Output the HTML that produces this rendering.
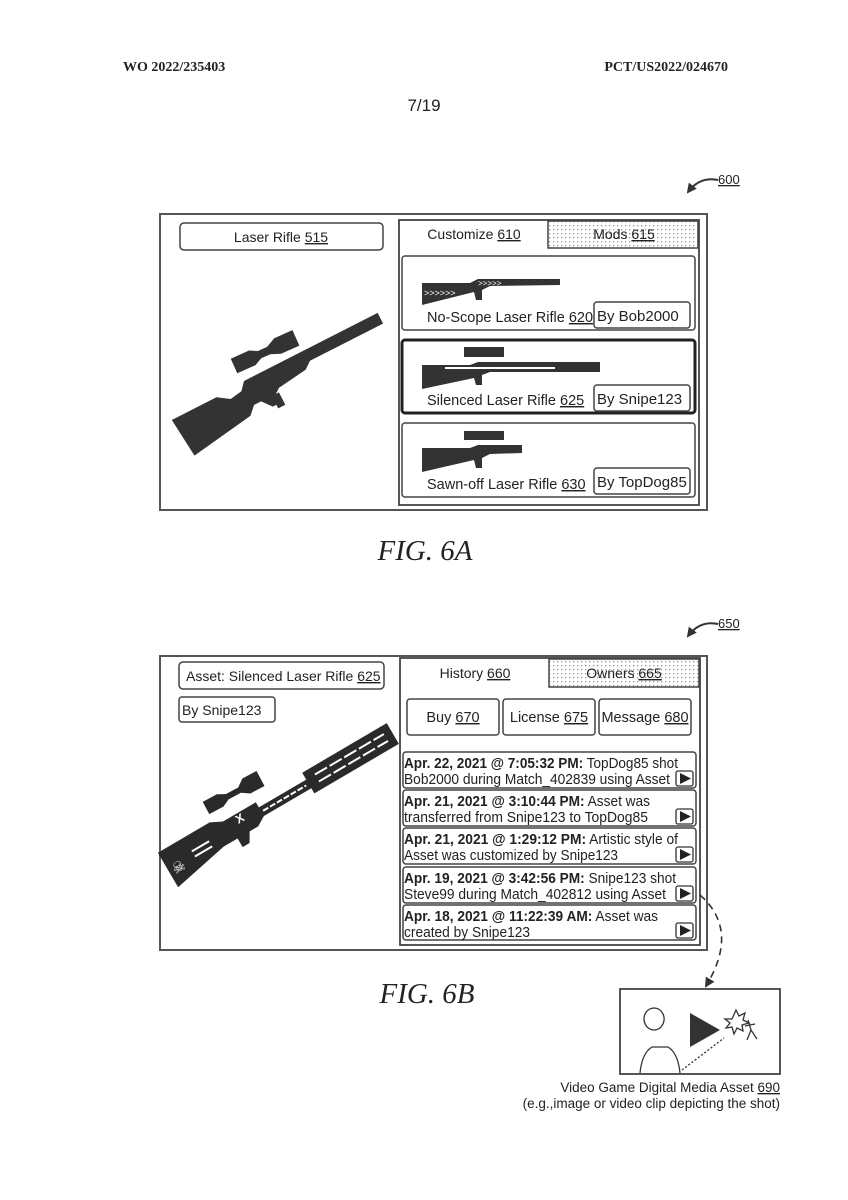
<!DOCTYPE html>
<html><head><meta charset="utf-8"><style>
html,body{margin:0;padding:0;background:#fff;}
svg{display:block;}
text{font-family:"Liberation Sans",Arial,sans-serif;fill:#222;}
</style></head><body>
<svg width="848" height="1200" viewBox="0 0 848 1200" xmlns="http://www.w3.org/2000/svg">
<defs>
<pattern id="dots" width="4" height="4" patternUnits="userSpaceOnUse"><rect width="4" height="4" fill="#fff"/><rect x="1" y="1" width="1.3" height="1.3" fill="#999"/></pattern>
<marker id="ah" markerWidth="10" markerHeight="10" refX="8" refY="5" orient="auto" markerUnits="userSpaceOnUse"><path d="M0,0 L10,5 L0,10 z" fill="#333"/></marker>
</defs>
<!-- header -->
<text x="123" y="71" font-weight="bold" font-size="14" style="font-family:'Liberation Serif',serif">WO 2022/235403</text>
<text x="728" y="71" text-anchor="end" font-weight="bold" font-size="14" style="font-family:'Liberation Serif',serif">PCT/US2022/024670</text>
<text x="424" y="111" text-anchor="middle" font-size="17">7/19</text>

<!-- 600 ref -->
<text x="718" y="184" font-size="13" text-decoration="underline">600</text>
<path d="M718,180 Q700,176 688,192" stroke="#333" stroke-width="2" fill="none" marker-end="url(#ah)"/>

<!-- FIG 6A -->
<rect x="160" y="214" width="547" height="296" fill="none" stroke="#555" stroke-width="2"/>
<rect x="180" y="223" width="203" height="27" rx="4" fill="#fff" stroke="#444" stroke-width="1.5"/>
<text x="281" y="242" text-anchor="middle" font-size="14">Laser Rifle <tspan text-decoration="underline">515</tspan></text>
<rect x="399" y="220" width="300" height="285" fill="#fff" stroke="#444" stroke-width="1.8"/>
<rect x="548" y="221" width="150" height="27" fill="url(#dots)" stroke="#444" stroke-width="1.5"/>
<text x="474" y="239" text-anchor="middle" font-size="14">Customize <tspan text-decoration="underline">610</tspan></text>
<text x="624" y="239" text-anchor="middle" font-size="14">Mods <tspan text-decoration="underline">615</tspan></text>
<rect x="402" y="256" width="293" height="74" rx="3" fill="#fff" stroke="#444" stroke-width="1.5"/>
<rect x="402" y="340" width="293" height="73" rx="3" fill="#fff" stroke="#222" stroke-width="3"/>
<rect x="402" y="423" width="293" height="74" rx="3" fill="#fff" stroke="#444" stroke-width="1.5"/>
<rect x="594" y="302" width="96" height="26" rx="3" fill="#fff" stroke="#444" stroke-width="1.5"/>
<rect x="594" y="385" width="96" height="26" rx="3" fill="#fff" stroke="#444" stroke-width="1.5"/>
<rect x="594" y="468" width="96" height="26" rx="3" fill="#fff" stroke="#444" stroke-width="1.5"/>
<text x="597" y="321" font-size="15">By Bob2000</text>
<text x="597" y="404" font-size="15">By Snipe123</text>
<text x="597" y="487" font-size="15">By TopDog85</text>
<text x="427" y="322" font-size="14.5">No-Scope Laser Rifle <tspan text-decoration="underline">620</tspan></text>
<text x="427" y="405" font-size="14.5">Silenced Laser Rifle <tspan text-decoration="underline">625</tspan></text>
<text x="427" y="489" font-size="14.5">Sawn-off Laser Rifle <tspan text-decoration="underline">630</tspan></text>

<!-- big rifle 6A -->
<g fill="#333" transform="translate(180,436) rotate(-27)">
<polygon points="0,-18 50,-18 62,-10 75,-12 82,-20 232,-20 232,-8 150,-8 142,-2 110,2 102,8 102,16 96,16 88,6 80,6 72,14 4,24"/>
<polygon points="100,6 108,6 108,20 100,20"/>
</g>
<g fill="#333" transform="translate(234,366) rotate(-24)">
<polygon points="0,-8 20,-8 28,-4 38,-4 48,-9 68,-9 68,8 48,8 38,4 28,4 20,8 0,8"/>
</g>
<!-- card rifles -->
<g fill="#333">
<polygon points="422,283 470,283 478,279 560,279 560,285 490,286 482,290 482,300 476,300 474,292 422,305"/>
<text x="424" y="296" font-size="9" style="fill:#fff">&gt;&gt;&gt;&gt;&gt;&gt;</text>
<text x="478" y="286" font-size="8" style="fill:#fff">&gt;&gt;&gt;&gt;&gt;</text>
<rect x="464" y="347" width="40" height="10"/>
<polygon points="422,365 470,365 478,362 600,362 600,372 490,372 482,375 482,385 476,385 474,378 422,389"/>
<rect x="445" y="367" width="110" height="2" fill="#fff"/>
<rect x="464" y="431" width="40" height="9"/>
<polygon points="422,448 470,448 478,445 522,445 522,453 490,454 482,458 482,468 476,468 474,460 422,472"/>
</g>

<text x="425" y="560" text-anchor="middle" font-size="29" font-style="italic" style="font-family:'Liberation Serif',serif">FIG. 6A</text>

<!-- 650 ref -->
<text x="718" y="628" font-size="13" text-decoration="underline">650</text>
<path d="M718,624 Q700,620 688,636" stroke="#333" stroke-width="2" fill="none" marker-end="url(#ah)"/>

<!-- FIG 6B -->
<rect x="160" y="656" width="547" height="294" fill="none" stroke="#555" stroke-width="2"/>
<rect x="179" y="662" width="205" height="27" rx="4" fill="#fff" stroke="#444" stroke-width="1.5"/>
<text x="186" y="681" font-size="14">Asset: Silenced Laser Rifle <tspan text-decoration="underline">625</tspan></text>
<rect x="179" y="697" width="96" height="25" rx="3" fill="#fff" stroke="#444" stroke-width="1.5"/>
<text x="182" y="715" font-size="14">By Snipe123</text>
<rect x="400" y="658" width="300" height="287" fill="#fff" stroke="#444" stroke-width="1.8"/>
<rect x="549" y="659" width="150" height="28" fill="url(#dots)" stroke="#444" stroke-width="1.5"/>
<text x="475" y="678" text-anchor="middle" font-size="14">History <tspan text-decoration="underline">660</tspan></text>
<text x="624" y="678" text-anchor="middle" font-size="14">Owners <tspan text-decoration="underline">665</tspan></text>
<rect x="407" y="699" width="92" height="36" rx="3" fill="#fff" stroke="#444" stroke-width="1.5"/>
<rect x="503" y="699" width="92" height="36" rx="3" fill="#fff" stroke="#444" stroke-width="1.5"/>
<rect x="599" y="699" width="92" height="36" rx="3" fill="#fff" stroke="#444" stroke-width="1.5"/>
<text x="453" y="722" text-anchor="middle" font-size="14.5">Buy <tspan text-decoration="underline">670</tspan></text>
<text x="549" y="722" text-anchor="middle" font-size="14.5">License <tspan text-decoration="underline">675</tspan></text>
<text x="645" y="722" text-anchor="middle" font-size="14.5">Message <tspan text-decoration="underline">680</tspan></text>

<g font-size="14.5">
<rect x="403" y="752" width="293" height="36" rx="3" fill="#fff" stroke="#444" stroke-width="1.5"/>
<text x="404" y="768" textLength="274" lengthAdjust="spacingAndGlyphs"><tspan font-weight="bold">Apr. 22, 2021 @ 7:05:32 PM:</tspan> TopDog85 shot</text>
<text x="404" y="784" textLength="266" lengthAdjust="spacingAndGlyphs">Bob2000 during Match_402839 using Asset</text>
<rect x="403" y="790" width="293" height="36" rx="3" fill="#fff" stroke="#444" stroke-width="1.5"/>
<text x="404" y="806" textLength="246" lengthAdjust="spacingAndGlyphs"><tspan font-weight="bold">Apr. 21, 2021 @ 3:10:44 PM:</tspan> Asset was</text>
<text x="404" y="822" textLength="244" lengthAdjust="spacingAndGlyphs">transferred from Snipe123 to TopDog85</text>
<rect x="403" y="828" width="293" height="36" rx="3" fill="#fff" stroke="#444" stroke-width="1.5"/>
<text x="404" y="844" textLength="274" lengthAdjust="spacingAndGlyphs"><tspan font-weight="bold">Apr. 21, 2021 @ 1:29:12 PM:</tspan> Artistic style of</text>
<text x="404" y="860" textLength="214" lengthAdjust="spacingAndGlyphs">Asset was customized by Snipe123</text>
<rect x="403" y="867" width="293" height="36" rx="3" fill="#fff" stroke="#444" stroke-width="1.5"/>
<text x="404" y="883" textLength="272" lengthAdjust="spacingAndGlyphs"><tspan font-weight="bold">Apr. 19, 2021 @ 3:42:56 PM:</tspan> Snipe123 shot</text>
<text x="404" y="899" textLength="262" lengthAdjust="spacingAndGlyphs">Steve99 during Match_402812 using Asset</text>
<rect x="403" y="905" width="293" height="35" rx="3" fill="#fff" stroke="#444" stroke-width="1.5"/>
<text x="404" y="921" textLength="254" lengthAdjust="spacingAndGlyphs"><tspan font-weight="bold">Apr. 18, 2021 @ 11:22:39 AM:</tspan> Asset was</text>
<text x="404" y="937" textLength="126" lengthAdjust="spacingAndGlyphs">created by Snipe123</text>
</g>
<g stroke="#333" stroke-width="1.3" fill="#fff">
<rect x="676" y="771" width="17" height="15" rx="2"/>
<rect x="676" y="809" width="17" height="15" rx="2"/>
<rect x="676" y="847" width="17" height="15" rx="2"/>
<rect x="676" y="886" width="17" height="15" rx="2"/>
<rect x="676" y="923" width="17" height="15" rx="2"/>
</g>
<g fill="#222">
<polygon points="680,773 691,778.5 680,784"/>
<polygon points="680,811 691,816.5 680,822"/>
<polygon points="680,849 691,854.5 680,860"/>
<polygon points="680,888 691,893.5 680,899"/>
<polygon points="680,925 691,930.5 680,936"/>
</g>

<!-- big rifle 6B -->
<g transform="translate(168,870) rotate(-30.4)">
<polygon fill="#2a2a2a" points="0,-20 60,-20 72,-14 110,-14 110,-8 165,-8 165,-16 263,-16 263,8 165,8 165,2 110,2 100,8 90,8 84,18 76,18 76,8 60,8 0,20"/>
<g stroke="#fff" stroke-width="2">
<line x1="30" y1="-4" x2="50" y2="-4"/><line x1="30" y1="2" x2="50" y2="2"/>
<line x1="112" y1="-3" x2="162" y2="-3" stroke-dasharray="6,2"/>
<line x1="175" y1="-8" x2="255" y2="-8" stroke-dasharray="14,3"/>
<line x1="175" y1="0" x2="255" y2="0" stroke-dasharray="14,3"/>
</g>
<text x="84" y="-4" font-size="12" font-weight="bold" style="fill:#fff">X</text>
<text x="4" y="8" font-size="15" style="fill:#fff">☠</text>
</g>
<g fill="#2a2a2a" transform="translate(206,808) rotate(-28)">
<polygon points="0,-7 16,-7 24,-3 38,-3 46,-9 62,-9 62,8 46,8 38,3 24,3 16,7 0,7"/>
</g>

<text x="427" y="1003" text-anchor="middle" font-size="29" font-style="italic" style="font-family:'Liberation Serif',serif">FIG. 6B</text>

<!-- dashed arrow -->
<path d="M700,895 Q740,930 706,986" stroke="#333" stroke-width="1.6" stroke-dasharray="7,5" fill="none" marker-end="url(#ah)"/>

<!-- video asset -->
<rect x="620" y="989" width="160" height="85" fill="#fff" stroke="#444" stroke-width="1.8"/>
<polygon points="690,1013 720,1030 690,1047" fill="#333"/>
<g stroke="#333" stroke-width="1.3" fill="none">
<path d="M654,1030 a10,11 0 1,1 0.1,0"/>
<path d="M640,1073 q2,-20 12,-26 l16,0 q10,6 12,26"/>
<line x1="682" y1="1070" x2="724" y2="1038" stroke-dasharray="2,2"/>
<path d="M736,1010 l3,6 6,-3 -2,7 6,3 -7,2 1,6 -6,-3 -3,6 -2,-7 -6,1 4,-5 -5,-4 7,0 z"/>
<path d="M748,1020 l3,10 -4,10 M751,1030 l6,9 M745,1026 l10,-2"/>
</g>
<text x="780" y="1092" text-anchor="end" font-size="13.5">Video Game Digital Media Asset <tspan text-decoration="underline">690</tspan></text>
<text x="780" y="1108" text-anchor="end" font-size="13.5">(e.g.,image or video clip depicting the shot)</text>
</svg>
</body></html>
